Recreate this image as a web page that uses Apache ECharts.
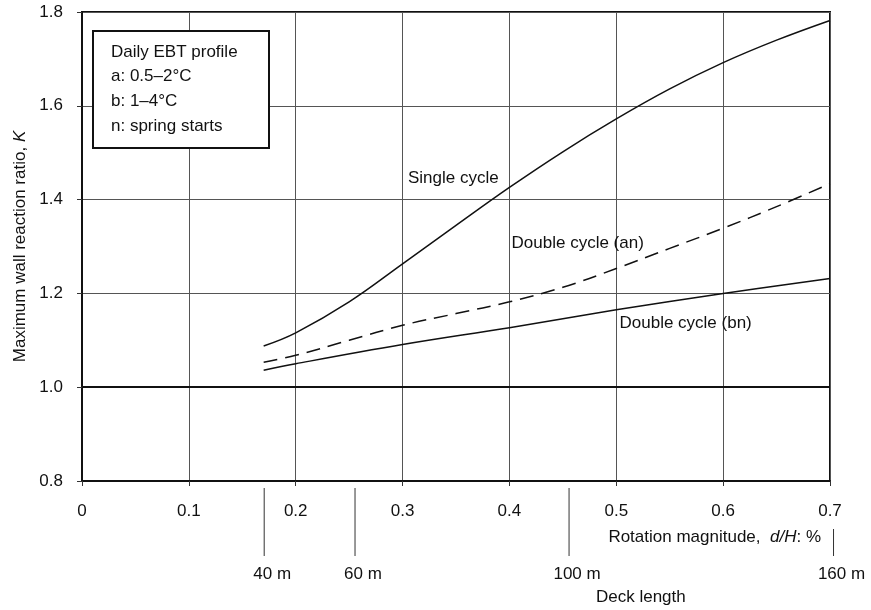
<!DOCTYPE html>
<html>
<head>
<meta charset="utf-8">
<title>Maximum wall reaction ratio</title>
<script src="https://cdn.jsdelivr.net/npm/echarts@6/dist/echarts.min.js"></script>
<style>
  html, body { margin: 0; padding: 0; background: #fff; }
  #chart { width: 871px; height: 610px; }
</style>
</head>
<body>
<div id="chart"></div>
<script>
// rotation magnitude d/H (%) and ratio K
var singleX = [0.17, 0.2, 0.25, 0.3, 0.35, 0.4, 0.45, 0.5, 0.55, 0.6, 0.65, 0.7];
var singleK = [1.088, 1.116, 1.182, 1.263, 1.345, 1.426, 1.502, 1.572, 1.636, 1.692, 1.74, 1.782];

var doubleAnX = [0.17, 0.2, 0.25, 0.3, 0.35, 0.4, 0.45, 0.5, 0.55, 0.6, 0.65, 0.7];
var doubleAnK = [1.053, 1.068, 1.1, 1.132, 1.157, 1.182, 1.213, 1.253, 1.296, 1.339, 1.385, 1.434];

var doubleBnX = [0.17, 0.2, 0.3, 0.4, 0.5, 0.6, 0.7];
var doubleBnK = [1.036, 1.05, 1.091, 1.127, 1.165, 1.2, 1.232];

var baseK = 1.0;

// secondary scale: deck length against d/H
var deckX = [0.1705, 0.2555, 0.4558, 0.7033];
var deckLabels = ["40 m", "60 m", "100 m", "160 m"];

var legendLines = ["Daily EBT profile", "a: 0.5\u20132\u00b0C", "b: 1\u20134\u00b0C", "n: spring starts"];

var FONT = "'Liberation Sans', Arial, sans-serif";

function pairs(xs, ys) {
  return xs.map(function (x, i) { return [x, ys[i]]; });
}

var chart = echarts.init(document.getElementById("chart"));

var option = {
  animation: false,
  backgroundColor: "#fff",
  textStyle: { fontFamily: FONT, color: "#111" },
  grid: {
    left: 82,
    right: 41,
    top: 12,
    bottom: 129,
    show: true,
    borderColor: "#111",
    borderWidth: 2
  },
  xAxis: {
    type: "value",
    min: 0,
    max: 0.7,
    interval: 0.1,
    axisLine: { show: true, onZero: false, lineStyle: { color: "#111", width: 2 } },
    axisTick: { show: true, length: 5, lineStyle: { color: "#333" } },
    splitLine: { show: true, lineStyle: { color: "#555", width: 1 } },
    axisLabel: {
      margin: 22,
      fontSize: 17,
      fontFamily: FONT,
      color: "#111",
      formatter: function (v) { return v === 0 ? "0" : v.toFixed(1); }
    }
  },
  yAxis: {
    type: "value",
    min: 0.8,
    max: 1.8,
    interval: 0.2,
    name: "Maximum wall reaction ratio, {i|K}",
    nameLocation: "middle",
    nameGap: 53,
    nameTextStyle: {
      fontSize: 17,
      fontFamily: FONT,
      color: "#111",
      rich: { i: { fontStyle: "italic", fontSize: 17, fontFamily: FONT, color: "#111" } }
    },
    axisLine: { show: true, lineStyle: { color: "#111", width: 2 } },
    axisTick: { show: true, length: 5, lineStyle: { color: "#333" } },
    splitLine: { show: true, lineStyle: { color: "#555", width: 1 } },
    axisLabel: {
      margin: 19,
      fontSize: 17,
      fontFamily: FONT,
      color: "#111",
      formatter: function (v) { return v.toFixed(1); }
    }
  },
  series: [
    {
      name: "Single cycle",
      type: "line",
      data: pairs(singleX, singleK),
      smooth: 0.4,
      showSymbol: false,
      lineStyle: { color: "#111", width: 1.5 }
    },
    {
      name: "Double cycle (an)",
      type: "line",
      data: pairs(doubleAnX, doubleAnK),
      smooth: 0.4,
      showSymbol: false,
      lineStyle: { color: "#111", width: 1.5, type: [14, 8] }
    },
    {
      name: "Double cycle (bn)",
      type: "line",
      data: pairs(doubleBnX, doubleBnK),
      smooth: 0.4,
      showSymbol: false,
      lineStyle: { color: "#111", width: 1.5 },
      markLine: {
        silent: true,
        symbol: "none",
        label: { show: false },
        lineStyle: { color: "#111", width: 2, type: "solid" },
        data: [{ yAxis: baseK }]
      }
    }
  ]
};

chart.setOption(option);

// annotations placed through the chart's own scales
function px(x, y) {
  return chart.convertToPixel({ gridIndex: 0 }, [x, y]);
}

var elements = [];

// curve labels (data coords of left edge / vertical centre)
var curveLabels = [
  { text: "Single cycle", at: [0.305, 1.446] },
  { text: "Double cycle (an)", at: [0.402, 1.307] },
  { text: "Double cycle (bn)", at: [0.503, 1.137] }
];
curveLabels.forEach(function (c) {
  var p = px(c.at[0], c.at[1]);
  elements.push({
    type: "text",
    x: p[0],
    y: p[1],
    style: { text: c.text, font: "17px " + FONT, fill: "#111", textVerticalAlign: "middle" },
    z: 10
  });
});

// deck length scale
var axisBottom = px(0, 0.8)[1];
deckX.forEach(function (d, i) {
  var x = px(d, 0.8)[0];
  var top = i === deckX.length - 1 ? axisBottom + 48 : axisBottom + 7;
  elements.push({
    type: "line",
    shape: { x1: x, y1: top, x2: x, y2: axisBottom + 75 },
    style: { stroke: "#333", lineWidth: 1 }
  });
  elements.push({
    type: "text",
    x: x + 8,
    y: axisBottom + 93,
    style: { text: deckLabels[i], font: "17px " + FONT, fill: "#111", textAlign: "center", textVerticalAlign: "middle" }
  });
});
elements.push({
  type: "text",
  x: px(0.523, 0.8)[0],
  y: axisBottom + 116,
  style: { text: "Deck length", font: "17px " + FONT, fill: "#111", textAlign: "center", textVerticalAlign: "middle" }
});
elements.push({
  type: "text",
  x: px(0.7, 0.8)[0] - 9,
  y: axisBottom + 56,
  style: {
    text: "Rotation magnitude,  {i|d/H}: %",
    font: "17px " + FONT,
    fill: "#111",
    textAlign: "right",
    textVerticalAlign: "middle",
    rich: { i: { fontStyle: "italic", fontSize: 17, fontFamily: FONT, fill: "#111" } }
  }
});

// key box
var boxLeft = 93, boxTop = 31;
elements.push({
  type: "rect",
  shape: { x: boxLeft, y: boxTop, width: 176, height: 117 },
  style: { fill: "#fff", stroke: "#111", lineWidth: 2 },
  z: 20
});
legendLines.forEach(function (t, i) {
  elements.push({
    type: "text",
    x: boxLeft + 18,
    y: boxTop + 21 + i * 24.8,
    style: { text: t, font: "17px " + FONT, fill: "#111", textVerticalAlign: "middle" },
    z: 21
  });
});

chart.setOption({ graphic: { elements: elements } });
</script>
</body>
</html>
